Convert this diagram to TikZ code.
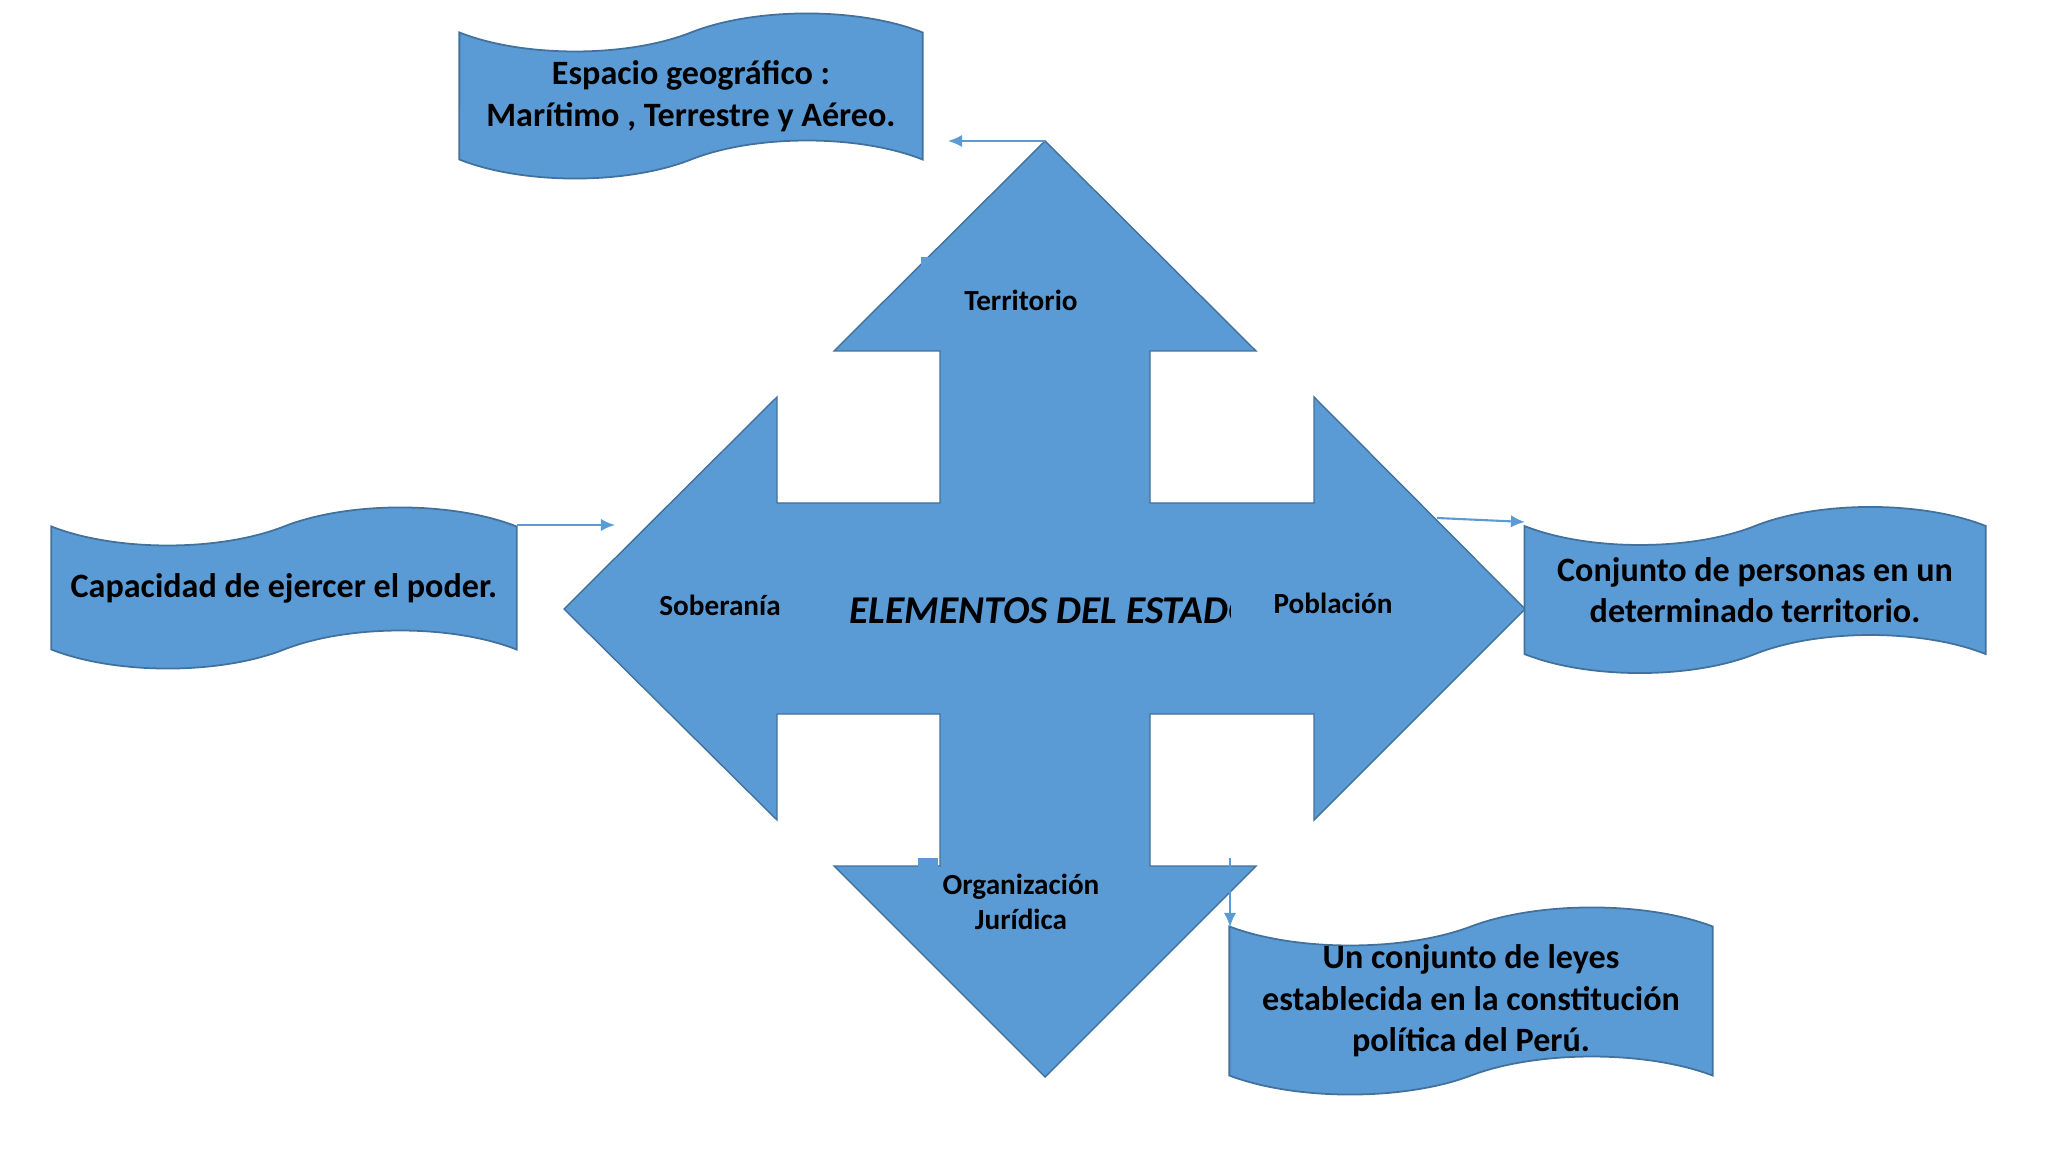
\documentclass[tikz,border=0pt]{standalone}
\usepackage{fontspec}
\setmainfont{Carlito}
\usetikzlibrary{shapes.symbols,arrows.meta}
\definecolor{azul}{HTML}{5B9BD5}
\definecolor{borde}{HTML}{41719C}

\begin{document}
\begin{tikzpicture}[
  x=0.01cm, y=-0.01cm,
  cinta/.style={tape, draw=borde, fill=azul, line width=0.5pt,
    tape bend top=in and out, tape bend bottom=in and out,
    tape bend height=0.38cm, align=center, inner xsep=0pt, inner ysep=-0.2cm,
    font=\bfseries\fontsize{9.7}{11.8}\selectfont},
  etiqueta/.style={align=center, font=\bfseries\fontsize{8.3}{10}\selectfont},
  conector/.style={draw=azul, line width=0.6pt, -{Latex[length=4pt,width=3.5pt]}}
]
\useasboundingbox (0,0) rectangle (2048,1152);

\filldraw[fill=azul, draw=borde, line width=0.4pt]
  (1045,141) -- (1256,351) -- (1150,351) -- (1150,503) -- (1314,503)
  -- (1314,397) -- (1525,609) -- (1314,820) -- (1314,714) -- (1150,714)
  -- (1150,866) -- (1256,866) -- (1045,1077) -- (834,866) -- (940,866)
  -- (940,714) -- (777,714) -- (777,820) -- (564,609) -- (777,397)
  -- (777,503) -- (940,503) -- (940,351) -- (834,351) -- cycle;
\fill[azul] (921,257) rectangle (934,270);
\fill[azul] (918,858) rectangle (938,868);

\node[etiqueta] (territorio) at (1021,300) {Territorio};
\node[etiqueta] (soberania) at (720,605) {Soberanía};
\node[etiqueta] (poblacion) at (1333,603) {Población};
\node[etiqueta] (organizacion) at (1021,902) {Organización\\Jurídica};
\begin{scope}
  \clip (849,560) rectangle (1230,660);
  \node[anchor=west, inner sep=0pt, font=\bfseries\itshape\fontsize{11.2}{13}\selectfont] (titulo) at (849,611) {ELEMENTOS DEL ESTADO};
\end{scope}

\node[cinta, minimum width=4.63cm, minimum height=1.65cm] (espacio) at (691,96) {Espacio geográfico :\\Marítimo , Terrestre y Aéreo.};
\node[cinta, minimum width=4.65cm, minimum height=1.61cm] (capacidad) at (284,588) {Capacidad de ejercer el poder.};
\node[cinta, minimum width=4.61cm, minimum height=1.66cm] (conjunto) at (1755,590) {Conjunto de personas en un\\determinado territorio.};
\node[cinta, minimum width=4.83cm, minimum height=1.87cm] (leyes) at (1471,1001) {Un conjunto de leyes\\establecida en la constitución\\política del Perú.};

\coordinate (puntaT) at (1045,141);
\coordinate (finT) at (948,141);
\coordinate (inicioS) at (517,525);
\coordinate (finS) at (615,525);
\coordinate (inicioP) at (1437,518);
\coordinate (finP) at (1525,522);
\coordinate (inicioO) at (1230,858);
\coordinate (finO) at (1230,927);
\draw[conector] (puntaT) -- (finT);
\draw[conector] (inicioS) -- (finS);
\draw[conector] (inicioP) -- (finP);
\draw[conector] (inicioO) -- (finO);
\end{tikzpicture}
\end{document}
